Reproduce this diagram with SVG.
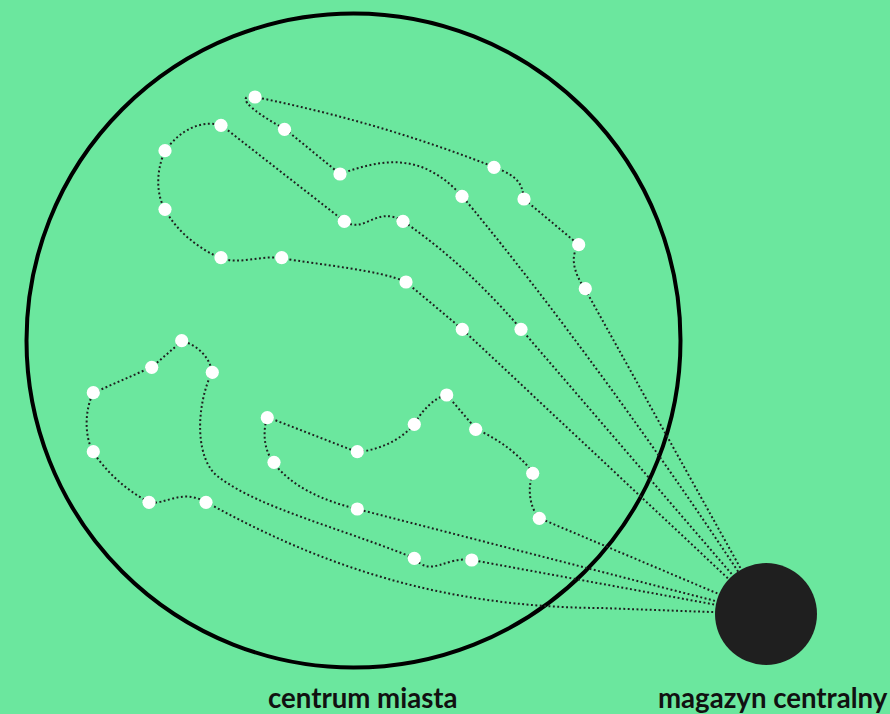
<svg xmlns="http://www.w3.org/2000/svg" width="890" height="714" viewBox="0 0 890 714">
<style>
.route{fill:none;stroke:#1f1f1f;stroke-width:2;stroke-dasharray:1.9 2.5}
.stop{fill:#ffffff}
.label{font-family:Lato,"Open Sans","Liberation Sans",sans-serif;font-weight:700;font-size:27.6px;fill:#111111}
</style>
<rect width="890" height="714" fill="#6be79e"/>
<g id="city-centre">
<circle cx="353.5" cy="340.5" r="327" fill="none" stroke="#000" stroke-width="4"/>
</g>
<g id="connectors">
<path class="route" d="M766,614 L585,289 C573,272 570,255 579,245 L524,199 C522,185 520,177 494,167 Q380,122 255,97 C238,94 242,106 285,129 L340,174 C380,160 420,150 462,196 C520,265 640,420 766,614"/>
<path class="route" d="M766,614 L521,329 C470,270 430,240 403,221 C375,205 365,235 344,221 L221,125 C200,120 180,130 165,151 C156,170 156,195 165,209 C175,230 200,250 221,258 C240,265 260,255 281,258 C320,265 380,270 406,282 L462,329 L766,614"/>
<path class="route" d="M766,614 L539,518 C528,505 528,485 533,473 C520,455 500,440 476,429 L447,395 C435,397 422,410 414,425 C400,440 380,450 357,452 L267,417 C262,435 265,452 274,463 C290,485 320,500 357,509 L766,614"/>
<path class="route" d="M766,614 L472,560 C445,556 432,578 414,558 C340,528 260,508 220,478 C195,462 195,408 212,372 C210,358 198,345 182,341 L152,367 L93,393 C85,410 84,435 93,452 C105,470 125,490 149,502 C165,506 180,488 206,502 C320,565 440,607 600,608 L766,614"/>
</g>
<g id="stop-1"><circle class="stop" cx="255" cy="97" r="6.6"/></g>
<g id="stop-2"><circle class="stop" cx="284.5" cy="129.3" r="6.6"/></g>
<g id="stop-3"><circle class="stop" cx="221" cy="125.3" r="6.6"/></g>
<g id="stop-4"><circle class="stop" cx="165" cy="150.7" r="6.6"/></g>
<g id="stop-5"><circle class="stop" cx="165" cy="209.3" r="6.6"/></g>
<g id="stop-6"><circle class="stop" cx="221" cy="257.7" r="6.6"/></g>
<g id="stop-7"><circle class="stop" cx="281.7" cy="257.7" r="6.6"/></g>
<g id="stop-8"><circle class="stop" cx="340" cy="174" r="6.6"/></g>
<g id="stop-9"><circle class="stop" cx="344.3" cy="221.3" r="6.6"/></g>
<g id="stop-10"><circle class="stop" cx="403" cy="221.3" r="6.6"/></g>
<g id="stop-11"><circle class="stop" cx="462" cy="196.3" r="6.6"/></g>
<g id="stop-12"><circle class="stop" cx="494" cy="167.3" r="6.6"/></g>
<g id="stop-13"><circle class="stop" cx="524" cy="199" r="6.6"/></g>
<g id="stop-14"><circle class="stop" cx="578.7" cy="244.7" r="6.6"/></g>
<g id="stop-15"><circle class="stop" cx="585.3" cy="288.7" r="6.6"/></g>
<g id="stop-16"><circle class="stop" cx="406" cy="282" r="6.6"/></g>
<g id="stop-17"><circle class="stop" cx="462.3" cy="329.3" r="6.6"/></g>
<g id="stop-18"><circle class="stop" cx="521" cy="329.3" r="6.6"/></g>
<g id="stop-19"><circle class="stop" cx="181.7" cy="340.7" r="6.6"/></g>
<g id="stop-20"><circle class="stop" cx="151.7" cy="367.3" r="6.6"/></g>
<g id="stop-21"><circle class="stop" cx="212.3" cy="372.3" r="6.6"/></g>
<g id="stop-22"><circle class="stop" cx="93.3" cy="392.7" r="6.6"/></g>
<g id="stop-23"><circle class="stop" cx="93.3" cy="451.7" r="6.6"/></g>
<g id="stop-24"><circle class="stop" cx="149" cy="502.3" r="6.6"/></g>
<g id="stop-25"><circle class="stop" cx="206" cy="502.3" r="6.6"/></g>
<g id="stop-26"><circle class="stop" cx="267.3" cy="417.7" r="6.6"/></g>
<g id="stop-27"><circle class="stop" cx="274" cy="462.3" r="6.6"/></g>
<g id="stop-28"><circle class="stop" cx="357.3" cy="451.7" r="6.6"/></g>
<g id="stop-29"><circle class="stop" cx="414.3" cy="424.3" r="6.6"/></g>
<g id="stop-30"><circle class="stop" cx="446.7" cy="395" r="6.6"/></g>
<g id="stop-31"><circle class="stop" cx="475.7" cy="429.3" r="6.6"/></g>
<g id="stop-32"><circle class="stop" cx="532.7" cy="473.3" r="6.6"/></g>
<g id="stop-33"><circle class="stop" cx="539.3" cy="518.3" r="6.6"/></g>
<g id="stop-34"><circle class="stop" cx="357.3" cy="509" r="6.6"/></g>
<g id="stop-35"><circle class="stop" cx="414.3" cy="558.3" r="6.6"/></g>
<g id="stop-36"><circle class="stop" cx="471.7" cy="560" r="6.6"/></g>
<g id="depot"><circle cx="766" cy="614" r="51" fill="#1f1f1f"/></g>
<g id="label-city"><text class="label" x="268" y="708">centrum miasta</text></g>
<g id="label-depot"><text class="label" x="658" y="708">magazyn centralny</text></g>
</svg>
